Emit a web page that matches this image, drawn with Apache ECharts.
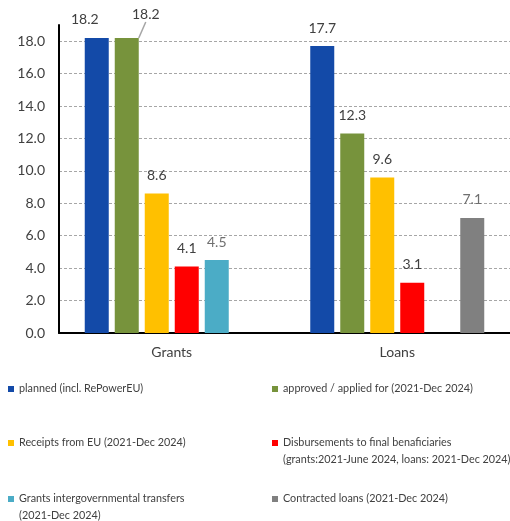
<!DOCTYPE html>
<html>
<head>
<meta charset="utf-8">
<script src="https://cdn.jsdelivr.net/npm/echarts@6/dist/echarts.min.js"></script>
<style>
  html, body { margin: 0; padding: 0; background: #fff; }
  #chart { width: 510px; height: 521px; }
</style>
</head>
<body>
<div id="chart"></div>
<script>
// RRF funds (EUR bn) by instrument
const categories = ['Grants', 'Loans'];
const planned    = [18.2, 17.7];
const approved   = [18.2, 12.3];
const receipts   = [8.6, 9.6];
const disbursed  = [4.1, 3.1];
const transfers  = [4.5, null];
const contracted = [null, 7.1];

const seriesNames = [
  'planned (incl. RePowerEU)',
  'approved / applied for (2021-Dec 2024)',
  'Receipts from EU (2021-Dec 2024)',
  'Disbursements to final benaficiaries\n(grants:2021-June 2024, loans: 2021-Dec 2024)',
  'Grants intergovernmental transfers\n(2021-Dec 2024)',
  'Contracted loans (2021-Dec 2024)'
];
const seriesColors = ['#134AA8', '#77933C', '#FFC000', '#FF0000', '#4BACC6', '#808080'];
const seriesValues = [planned, approved, receipts, disbursed, transfers, contracted];

const FONT = 'Lato';
const TEXT = '#404040';

function barSeries(i) {
  return {
    name: seriesNames[i],
    type: 'bar',
    barWidth: 24,
    barGap: '25%',
    itemStyle: { color: seriesColors[i] },
    label: {
      show: true,
      position: 'top',
      distance: 11,
      fontFamily: FONT,
      fontSize: 14,
      color: (i === 4 || i === 5) ? '#6f6f6f' : TEXT,
      formatter: p => p.value == null ? '' : p.value.toFixed(1)
    },
    data: seriesValues[i].map(v => v)
  };
}

const series = seriesNames.map((_, i) => barSeries(i));
// nudge the two overlapping grant labels apart
series[0].data[0] = { value: planned[0], label: { offset: [-12, 0] } };
series[1].data[0] = { value: approved[0], labelLine: { show: true } };
series[1].labelLayout = function (params) {
  if (params.dataIndex === 0) return { dx: 19, dy: -5 };
  return {};
};
series[1].labelLine = { show: false, lineStyle: { color: '#a6a6a6', width: 1.5 } };

// 11 split lines: 0,2,...,18 and the axis top (19) which stays hidden
const splitColors = Array(10).fill('#a6a6a6').concat(['rgba(0,0,0,0)']);

// legend placement: two columns, three rows
const legendPos = [
  { left: 8,   center: 389, lines: 1 },
  { left: 272, center: 389, lines: 1 },
  { left: 8,   center: 443, lines: 1 },
  { left: 272, center: 443, lines: 2 },
  { left: 8,   center: 499, lines: 2 },
  { left: 272, center: 499, lines: 1 }
];
const LH = 17;
const legends = seriesNames.map((name, i) => {
  const p = legendPos[i];
  // two-line entries get an empty leading line so the first line sits level with the swatch
  const twoLine = p.lines === 2;
  return {
    data: [name],
    left: p.left,
    top: twoLine ? p.center - 1.5 * LH : p.center - LH / 2,
    padding: 0,
    itemWidth: 6,
    itemHeight: 6,
    icon: 'rect',
    selectedMode: false,
    formatter: twoLine ? (n => ' \n' + n) : (n => n),
    textStyle: {
      fontFamily: FONT,
      fontSize: 10.8,
      color: TEXT,
      lineHeight: LH
    }
  };
});

const chart = echarts.init(document.getElementById('chart'), null, { renderer: 'canvas' });
chart.setOption({
  animation: false,
  backgroundColor: '#ffffff',
  grid: { left: 59, right: 0, top: 25, bottom: 188, containLabel: false },
  legend: legends,
  xAxis: {
    type: 'category',
    data: categories,
    axisTick: { show: false },
    axisLine: { lineStyle: { color: '#000', width: 2 } },
    axisLabel: { fontFamily: FONT, fontSize: 14, color: TEXT, margin: 12 }
  },
  yAxis: {
    type: 'value',
    min: 0,
    max: 19,
    interval: 2,
    axisLine: { show: true, lineStyle: { color: '#000', width: 2 } },
    axisTick: { show: false },
    axisLabel: {
      fontFamily: FONT, fontSize: 14, color: TEXT, margin: 14,
      showMaxLabel: false,
      formatter: v => v.toFixed(1)
    },
    splitLine: { show: true, lineStyle: { color: splitColors, type: [3, 2], width: 1 } }
  },
  series: series
});
</script>
</body>
</html>
